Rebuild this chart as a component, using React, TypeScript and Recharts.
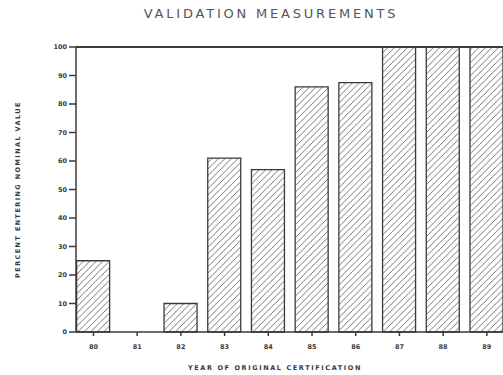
import { BarChart, Bar, XAxis, YAxis, ReferenceLine, Label } from "recharts";

const years = [80, 81, 82, 83, 84, 85, 86, 87, 88, 89];
const percents = [25, 0, 10, 61, 57, 86, 87.5, 100, 100, 100];
const yTicks = [0, 10, 20, 30, 40, 50, 60, 70, 80, 90, 100];

const data = years.map((year, i) => ({ year, pct: percents[i] }));

const INK = "#3a3a3a";
const tickFont = { fontSize: 6.5, fontWeight: 700, fill: INK, fontFamily: "DejaVu Sans" };

const YLabel = (props: any) => {
  const vb = props.viewBox || {};
  const cx = 18;
  const cy = vb.y + vb.height / 2;
  return (
    <text
      x={cx}
      y={cy}
      transform={`rotate(-90 ${cx} ${cy})`}
      textAnchor="middle"
      dominantBaseline="central"
      fontSize={6.5}
      fontWeight={700}
      letterSpacing={1.4}
      fill={INK}
      fontFamily="DejaVu Sans"
    >
      PERCENT ENTERING NOMINAL VALUE
    </text>
  );
};

const XLabel = (props: any) => {
  const vb = props.viewBox || {};
  return (
    <text
      x={275}
      y={vb.y + 38}
      textAnchor="middle"
      fontSize={6.5}
      fontWeight={700}
      letterSpacing={1.6}
      fill={INK}
      fontFamily="DejaVu Sans"
    >
      YEAR OF ORIGINAL CERTIFICATION
    </text>
  );
};

const App = () => {
  return (
    <div style={{ position: "absolute", left: 0, top: 0, width: 503, height: 375, background: "#fff" }}>
      <div
        style={{
          position: "absolute",
          top: 6,
          left: 0,
          width: 542,
          textAlign: "center",
          fontFamily: "DejaVu Sans",
          fontSize: 13,
          letterSpacing: 2.8,
          color: "#555",
        }}
      >
        VALIDATION MEASUREMENTS
      </div>
      <BarChart
        width={503}
        height={375}
        data={data}
        margin={{ top: 47, right: 0, bottom: 13, left: 0 }}
      >
        <defs>
          <pattern id="hatch" patternUnits="userSpaceOnUse" width="6.5" height="6.5">
            <path d="M-1,1 l2,-2 M0,6.5 l6.5,-6.5 M5.5,7.5 l2,-2" stroke="#666" strokeWidth={0.9} />
          </pattern>
        </defs>
        <XAxis
          dataKey="year"
          type="number"
          domain={[79.6, 89.37]}
          ticks={years}
          allowDataOverflow
          height={30}
          stroke={INK}
          strokeWidth={1.5}
          tickSize={4}
          tickMargin={8}
          tick={tickFont}
          interval={0}
        >
          <Label content={<XLabel />} />
        </XAxis>
        <YAxis
          type="number"
          domain={[0, 100]}
          ticks={yTicks}
          width={76}
          stroke={INK}
          strokeWidth={1.5}
          tickSize={7}
          tickMargin={2}
          tick={tickFont}
          interval={0}
        >
          <Label content={<YLabel />} />
        </YAxis>
        <ReferenceLine y={100} stroke={INK} strokeWidth={2} />
        <Bar
          dataKey="pct"
          barSize={33}
          fill="url(#hatch)"
          stroke={INK}
          strokeWidth={1.3}
          isAnimationActive={false}
        />
      </BarChart>
    </div>
  );
};

export default App;
